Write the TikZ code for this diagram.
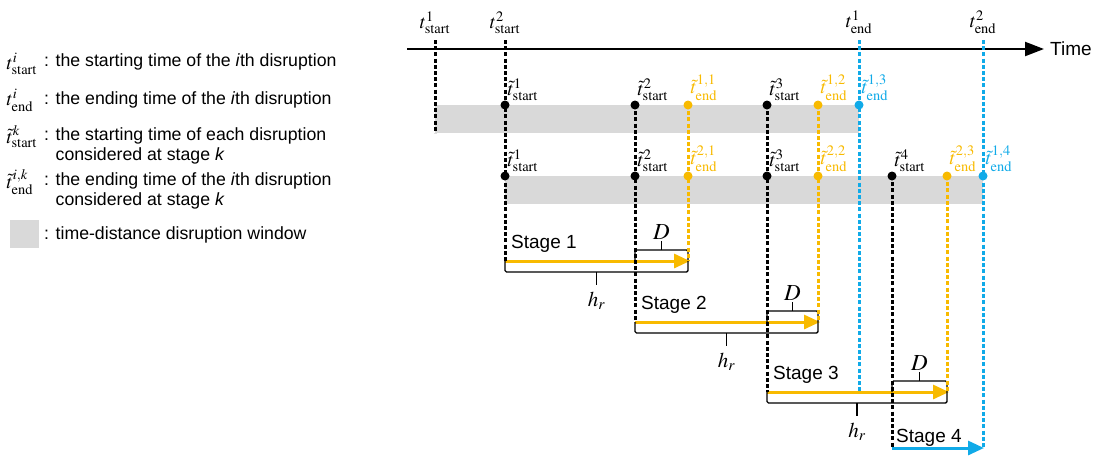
\documentclass[tikz,border=0pt]{standalone}
\usepackage{mathptmx}
\usepackage[no-math]{fontspec}
\setmainfont{Liberation Sans}
\usetikzlibrary{arrows.meta,calc,positioning}
\pgfdeclarelayer{front}
\pgfsetlayers{main,front}

\definecolor{gold}{RGB}{248,186,0}
\definecolor{sky}{RGB}{16,170,232}
\definecolor{band}{RGB}{217,217,217}

\begin{document}
\begin{tikzpicture}[x=1pt,y=-1pt,
  every node/.style={font=\fontsize{17.7}{20}\selectfont},
  mlab/.style={font=\fontsize{19.5}{22}\selectfont,inner sep=0.5pt},
  slab/.style={font=\fontsize{19}{22}\selectfont,inner sep=0pt,anchor=base west},
  vline/.style={line width=3pt,dash pattern=on 4pt off 2.2pt,draw=#1},
  dot/.style={circle,fill=#1,inner sep=0pt,minimum size=9pt},
  stagearr/.style={line width=3pt,draw=#1,-{Triangle[length=16pt,width=14pt]}},
  brk/.style={line width=1.4pt,rounded corners=1.5pt}]
  \useasboundingbox (0,0) rectangle (1105,456);

  % legend
  \node[mlab,anchor=west] (k1) at (6,64) {$t^{i}_{\mathrm{start}}$};
  \node[anchor=west,inner sep=0pt] (k1t) at (44,62) {: the starting time of the \textit{i}th disruption};
  \node[mlab,anchor=west] (k2) at (6,100) {$t^{i}_{\mathrm{end}}$};
  \node[anchor=west,inner sep=0pt] (k2t) at (44,100) {: the ending time of the \textit{i}th disruption};
  \node[mlab,anchor=west] (k3) at (6,137) {$\tilde{t}^{k}_{\mathrm{start}}$};
  \node[anchor=west,inner sep=0pt,align=left] (k3t) at (44,146)
    {: the starting time of each disruption\\\hphantom{: }considered at stage \textit{k}};
  \node[mlab,anchor=west] (k4) at (6,182) {$\tilde{t}^{i,k}_{\mathrm{end}}$};
  \node[anchor=west,inner sep=0pt,align=left] (k4t) at (44,191)
    {: the ending time of the \textit{i}th disruption\\\hphantom{: }considered at stage \textit{k}};
  \fill[band] (10,220) rectangle (39,248);
  \node[anchor=west,inner sep=0pt] (k5t) at (44,235) {: time-distance disruption window};

  % disruption windows
  \fill[band] (435,105) rectangle (859,133);
  \fill[band] (505,176) rectangle (983,204);

  % time axis
  \coordinate (ax0) at (407,49);
  \node[anchor=west,inner sep=0pt,font=\fontsize{19}{22}\selectfont] (time) at (1050,49) {Time};
  \draw[line width=2.2pt,-{Triangle[length=19pt,width=14pt]}] (ax0) -- ([xshift=-6pt]time.west);
  \foreach \n/\x/\lab in {a1/435/{t^{1}_{\mathrm{start}}},a2/505/{t^{2}_{\mathrm{start}}},
      a3/859/{t^{1}_{\mathrm{end}}},a4/983/{t^{2}_{\mathrm{end}}}}{
    \coordinate (\n) at (\x,40);
    \node[mlab,anchor=south] (\n-l) at (\x,34) {$\lab$};}

  % stages 1--3
  \foreach \k/\xa/\xd/\xe/\y in {1/505/635/688/261,2/635/767/818/322,3/767/892/947/392}{
    \coordinate (s\k) at (\xa,\y);
    \coordinate (d\k) at (\xd,\y);
    \coordinate (e\k) at (\xe,\y);
    \node[slab] (st\k) at (\xa+6,\y-13) {Stage \k};
    \draw[stagearr=gold] (s\k) -- ([xshift=2pt]e\k);
    \draw[brk] (d\k) -- ++(0,-11) -| (e\k);
    \draw[brk] ($(d\k)!0.5!(e\k)+(0,-11)$) -- ++(0,-9);
    \node[mlab,font=\fontsize{23}{26}\selectfont] (D\k) at ($(d\k)!0.5!(e\k)+(0,-29)$) {$D$};
    \draw[brk] (s\k) -- ++(0,11) -| (e\k);
    \draw[brk] ($(s\k)!0.5!(e\k)+(0,11)$) -- ++(0,13);
    \node[mlab,font=\fontsize{21}{24}\selectfont] (h\k) at ($(s\k)!0.5!(e\k)+(0,40)$) {$h_r$};}

  % stage 4
  \coordinate (s4) at (892,448);
  \coordinate (e4) at (983,448);
  \node[slab] (st4) at (896,442) {Stage 4};
  \draw[stagearr=sky] (s4) -- ([xshift=1pt]e4);

  % disruption points considered at each stage
  \foreach \i/\x/\c/\lab in {1/505/black/{\tilde{t}^{1}_{\mathrm{start}}},2/635/black/{\tilde{t}^{2}_{\mathrm{start}}},
      3/688/gold/{\tilde{t}^{1,1}_{\mathrm{end}}},4/767/black/{\tilde{t}^{3}_{\mathrm{start}}},
      5/818/gold/{\tilde{t}^{1,2}_{\mathrm{end}}},6/859/sky/{\tilde{t}^{1,3}_{\mathrm{end}}}}{
    \begin{pgfonlayer}{front}
      \node[dot=\c] (u\i) at (\x,105) {};
    \end{pgfonlayer}
    \node[mlab,anchor=south west,text=\c] (u\i-l) at (\x+2,101) {$\lab$};}
  \foreach \i/\x/\c/\lab in {1/505/black/{\tilde{t}^{1}_{\mathrm{start}}},2/635/black/{\tilde{t}^{2}_{\mathrm{start}}},
      3/688/gold/{\tilde{t}^{2,1}_{\mathrm{end}}},4/767/black/{\tilde{t}^{3}_{\mathrm{start}}},
      5/818/gold/{\tilde{t}^{2,2}_{\mathrm{end}}},6/892/black/{\tilde{t}^{4}_{\mathrm{start}}},
      7/947/gold/{\tilde{t}^{2,3}_{\mathrm{end}}},8/983/sky/{\tilde{t}^{1,4}_{\mathrm{end}}}}{
    \begin{pgfonlayer}{front}
      \node[dot=\c] (w\i) at (\x,176) {};
    \end{pgfonlayer}
    \node[mlab,anchor=south west,text=\c] (w\i-l) at (\x+2,172) {$\lab$};}

  % time lines
  \coordinate (c3) at (859,392);
  \coordinate (b1) at (435,133);
  \foreach \p/\q/\c in {a1/b1/black,a2/s1/black,u2/s2/black,u3/e1/gold,u4/s3/black,
      u5/e2/gold,a3/c3/sky,w6/s4/black,w7/e3/gold,a4/e4/sky}
    \draw[vline=\c] (\p.center) -- (\q);
\end{tikzpicture}
\end{document}
